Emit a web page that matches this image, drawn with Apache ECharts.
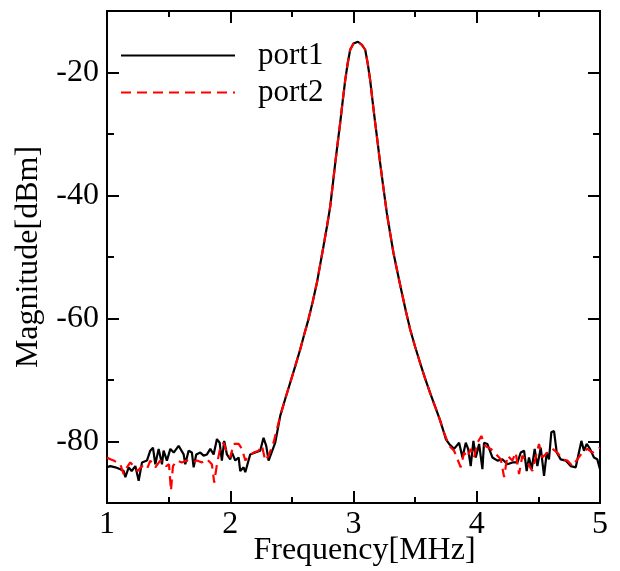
<!DOCTYPE html>
<html>
<head>
<meta charset="utf-8">
<script src="https://cdn.jsdelivr.net/npm/echarts@6/dist/echarts.min.js"></script>
<style>
html,body{margin:0;padding:0;background:#fff;}
#chart{width:620px;height:571px;}
</style>
</head>
<body>
<div id="chart"></div>
<script>
// ---- data ----
var xTicks = [1, 2, 3, 4, 5];
var yTickLabels = [-80, -60, -40, -20];
var yMinorTicks = [-70, -50, -30];

// shared resonance peak (both ports overlap)
var peakFreq = [2.406, 2.447, 2.487, 2.528, 2.568, 2.600, 2.635, 2.670, 2.703, 2.730, 2.757, 2.785, 2.811, 2.832, 2.852, 2.872, 2.892, 2.912, 2.933, 2.953, 2.973, 3.000, 3.036, 3.068, 3.095, 3.115, 3.135, 3.155, 3.176, 3.196, 3.216, 3.243, 3.270, 3.297, 3.324, 3.358, 3.392, 3.426, 3.460, 3.500, 3.540, 3.580, 3.620, 3.660, 3.700, 3.730];
var peakMag  = [-75.8, -73.0, -70.4, -67.7, -65.0, -62.6, -60.1, -57.2, -54.2, -51.2, -48.2, -45.0, -41.8, -38.2, -34.7, -31.4, -28.2, -24.7, -21.2, -18.5, -16.3, -15.3, -15.0, -15.5, -16.3, -18.5, -21.2, -24.7, -28.2, -31.4, -34.7, -38.8, -42.8, -46.1, -49.3, -52.6, -55.8, -58.9, -61.8, -64.6, -67.2, -69.7, -72.0, -74.2, -76.4, -78.3];

var port1LowFreq = [1.000, 1.027, 1.068, 1.108, 1.135, 1.149, 1.176, 1.200, 1.230, 1.257, 1.284, 1.324, 1.351, 1.373, 1.392, 1.419, 1.446, 1.459, 1.486, 1.514, 1.541, 1.581, 1.595, 1.622, 1.635, 1.662, 1.689, 1.703, 1.724, 1.757, 1.784, 1.811, 1.838, 1.865, 1.892, 1.914, 1.932, 1.951, 1.973, 2.000, 2.014, 2.041, 2.068, 2.081, 2.108, 2.122, 2.140, 2.162, 2.203, 2.243, 2.270, 2.292, 2.311, 2.330, 2.365];
var port1LowMag  = [-84.2, -84.0, -84.2, -84.5, -84.8, -85.8, -84.2, -84.8, -84.0, -86.4, -83.4, -83.1, -81.5, -81.0, -83.7, -81.2, -83.7, -81.5, -83.1, -81.2, -81.8, -80.7, -80.4, -82.1, -83.7, -81.5, -81.8, -84.2, -82.1, -81.8, -82.3, -82.1, -81.2, -82.1, -79.6, -80.2, -83.1, -79.9, -82.1, -82.9, -81.8, -83.1, -82.6, -84.8, -84.2, -85.0, -83.7, -82.1, -81.8, -81.5, -79.4, -80.7, -83.1, -82.1, -80.2];
var port1HighFreq = [3.749, 3.776, 3.816, 3.857, 3.884, 3.911, 3.930, 3.951, 3.973, 3.992, 4.019, 4.046, 4.059, 4.086, 4.127, 4.168, 4.208, 4.249, 4.289, 4.330, 4.357, 4.384, 4.405, 4.424, 4.446, 4.470, 4.492, 4.519, 4.546, 4.568, 4.586, 4.605, 4.627, 4.649, 4.681, 4.722, 4.762, 4.803, 4.832, 4.849, 4.870, 4.892, 4.919, 4.951, 4.978, 5.000];
var port1HighMag  = [-79.6, -80.4, -81.2, -80.2, -82.6, -80.2, -81.2, -84.0, -79.9, -82.6, -80.4, -84.5, -80.2, -80.4, -82.6, -83.1, -82.9, -83.7, -83.4, -83.4, -81.8, -81.5, -84.8, -82.6, -84.5, -81.2, -84.0, -81.0, -85.6, -81.8, -82.9, -78.5, -78.3, -81.8, -82.9, -83.1, -84.0, -84.2, -81.5, -79.9, -81.5, -80.4, -81.2, -82.6, -82.9, -84.5];

var port2LowFreq = [1.000, 1.027, 1.054, 1.081, 1.108, 1.135, 1.162, 1.189, 1.216, 1.249, 1.284, 1.324, 1.351, 1.392, 1.432, 1.481, 1.503, 1.519, 1.535, 1.568, 1.608, 1.649, 1.689, 1.730, 1.770, 1.811, 1.851, 1.870, 1.892, 1.919, 1.946, 1.973, 2.000, 2.027, 2.068, 2.095, 2.122, 2.149, 2.189, 2.230, 2.257, 2.284, 2.311, 2.351];
var port2LowMag  = [-82.6, -82.9, -83.1, -83.4, -83.7, -85.3, -84.2, -83.4, -84.0, -84.8, -84.0, -84.5, -83.1, -84.2, -83.1, -84.0, -83.7, -88.0, -84.0, -83.1, -83.4, -83.1, -83.4, -83.1, -83.4, -82.9, -83.7, -86.7, -83.7, -81.0, -80.2, -81.8, -82.6, -80.4, -80.4, -81.2, -83.1, -82.3, -81.8, -81.5, -80.7, -83.1, -82.3, -80.2];
var port2HighFreq = [3.776, 3.816, 3.870, 3.897, 3.924, 3.951, 3.978, 4.005, 4.038, 4.065, 4.114, 4.168, 4.195, 4.222, 4.249, 4.289, 4.316, 4.343, 4.370, 4.411, 4.451, 4.478, 4.505, 4.532, 4.573, 4.614, 4.654, 4.695, 4.735, 4.776, 4.816, 4.857, 4.897, 4.938, 4.978, 5.000];
var port2HighMag  = [-80.7, -81.5, -84.2, -81.8, -82.6, -81.2, -82.6, -80.2, -79.1, -80.7, -81.2, -82.3, -82.9, -85.8, -82.3, -83.1, -81.8, -85.3, -82.3, -83.4, -84.8, -82.6, -80.4, -82.6, -81.8, -81.2, -81.8, -82.9, -83.1, -84.0, -82.9, -81.8, -81.2, -81.8, -81.2, -81.0];

function pairs(fx, fy) {
  var out = [];
  for (var i = 0; i < fx.length; i++) out.push([fx[i], fy[i]]);
  return out;
}
var port1 = pairs(port1LowFreq, port1LowMag).concat(pairs(peakFreq, peakMag), pairs(port1HighFreq, port1HighMag));
var port2 = pairs(port2LowFreq, port2LowMag).concat(pairs(peakFreq, peakMag), pairs(port2HighFreq, port2HighMag));

var FONT = '"Liberation Serif", "Times New Roman", serif';
var chart = echarts.init(document.getElementById('chart'), null, {renderer: 'canvas'});

function xAxisCfg(pos, showLabel) {
  return {
    type: 'value', position: pos, min: 1, max: 5, interval: 1,
    axisLine: {show: true, onZero: false, lineStyle: {color: '#000', width: 2}},
    axisTick: {show: true, inside: true, length: 12, lineStyle: {color: '#000', width: 2}},
    minorTick: {show: true, splitNumber: 2, length: 6, lineStyle: {color: '#000', width: 2}},
    splitLine: {show: false},
    axisLabel: {show: showLabel, color: '#000', fontFamily: FONT, fontSize: 32, margin: 6},
    name: showLabel ? 'Frequency[MHz]' : '',
    nameLocation: 'middle', nameGap: 32, nameMoveOverlap: false,
    nameTextStyle: {color: '#000', fontFamily: FONT, fontSize: 32, padding: [0, 0, 0, 22]}
  };
}
function yAxisCfg(pos, showLabel, ticks, len) {
  return {
    type: 'value', position: pos, min: -90, max: -10,
    axisLine: {show: true, onZero: false, lineStyle: {color: '#000', width: 2}},
    axisTick: {show: true, inside: true, length: len, customValues: ticks, lineStyle: {color: '#000', width: 2}},
    splitLine: {show: false},
    axisLabel: {show: showLabel, customValues: yTickLabels, color: '#000', fontFamily: FONT, fontSize: 32, margin: 8},
    name: showLabel ? 'Magnitude[dBm]' : '',
    nameLocation: 'middle', nameGap: 62, nameMoveOverlap: false,
    nameTextStyle: {color: '#000', fontFamily: FONT, fontSize: 32}
  };
}

chart.setOption({
  animation: false,
  backgroundColor: '#fff',
  grid: {left: 107, right: 20, top: 11, bottom: 68, containLabel: false, outerBoundsMode: 'none'},
  legend: {
    orient: 'vertical', left: 115, top: 35,
    itemWidth: 114, itemHeight: 14, itemGap: 6,
    itemStyle: {opacity: 0, borderWidth: 0},
    textStyle: {color: '#000', fontFamily: FONT, fontSize: 31, padding: [0, 0, 0, 18]},
    data: ['port1', 'port2']
  },
  xAxis: [xAxisCfg('bottom', true), xAxisCfg('top', false)],
  yAxis: [
    yAxisCfg('left', true, yTickLabels, 12),
    yAxisCfg('right', false, yTickLabels, 12),
    yAxisCfg('left', false, yMinorTicks, 7),
    yAxisCfg('right', false, yMinorTicks, 7)
  ],
  series: [
    {name: 'port1', type: 'line', data: port1, xAxisIndex: 0, yAxisIndex: 0, symbol: 'none', smooth: false,
     lineStyle: {color: '#000', width: 2.2}, itemStyle: {color: '#000'}, z: 2},
    {name: 'port2', type: 'line', data: port2, xAxisIndex: 0, yAxisIndex: 0, symbol: 'none', smooth: false,
     lineStyle: {color: '#ff0000', width: 2.2, type: [10, 6]}, itemStyle: {color: '#ff0000'}, z: 3}
  ]
});
</script>
</body>
</html>
